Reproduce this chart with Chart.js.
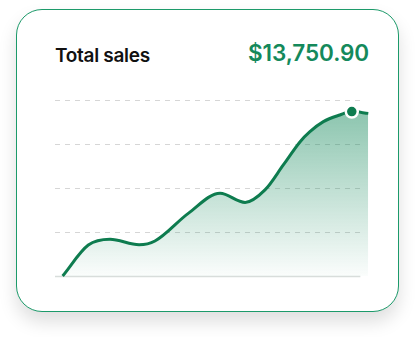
<!DOCTYPE html>
<html>
<head>
<meta charset="utf-8">
<script src="https://cdn.jsdelivr.net/npm/chart.js@4"></script>
<style>
  html, body { margin: 0; padding: 0; background: #fff; }
  body { width: 416px; height: 337px; position: relative; overflow: hidden; font-family: Inter, "Noto Sans", sans-serif; }
  .card {
    position: absolute; left: 16px; top: 9px; width: 381px; height: 301px;
    border: 1.5px solid #1c9a6a; border-radius: 26px; background: #fff;
    box-shadow: 0 10px 18px rgba(0, 0, 0, 0.13);
  }
  .title { position: absolute; left: 55px; top: 44px; font-size: 19px; font-weight: 600; color: #111; letter-spacing: -0.3px; }
  .total { position: absolute; right: 47px; top: 39px; font-size: 22.5px; font-weight: 600; color: #14895b; letter-spacing: -0.1px; }
  #wrap { position: absolute; left: 0; top: 0; width: 416px; height: 337px; }
</style>
</head>
<body>
<div class="card"></div>
<div class="title">Total sales</div>
<div class="total">$13,750.90</div>
<div id="wrap"><canvas id="salesChart"></canvas></div>
<script>
// sales curve (x = position along period, y = share of axis max)
const days  = [0, 8.4, 15.5, 25.0, 30.2, 41.1, 51.5, 59.7, 66.2, 72.2, 77.7, 80.9, 85.3, 90.7, 94.6, 100];
const sales = [0, 17.6, 20.9, 17.8, 19.9, 35.6, 47.0, 41.8, 48.9, 63.1, 76.3, 82.0, 87.7, 91.5, 93.4, 92.4];
const yTicks = [0, 25, 50, 75, 100];
const markIndex = 14;

document.addEventListener('DOMContentLoaded', function () {
  const ctx = document.getElementById('salesChart');

  // dashed grid + solid baseline, stopping a bit short of the line end
  const dashedGrid = {
    id: 'dashedGrid',
    beforeDatasetsDraw(chart) {
      const c = chart.ctx;
      const x0 = chart.chartArea.left;
      const x1 = chart.scales.x.getPixelForValue(97.4);
      c.save();
      yTicks.forEach(v => {
        const y = Math.round(chart.scales.y.getPixelForValue(v)) + 0.5;
        c.beginPath();
        if (v === 0) {
          c.setLineDash([]);
          c.strokeStyle = '#d8dddb';
          c.lineWidth = 1.5;
        } else {
          c.setLineDash([5, 5]);
          c.strokeStyle = '#d6d6d6';
          c.lineWidth = 1;
        }
        c.moveTo(x0, y);
        c.lineTo(x1, y);
        c.stroke();
      });
      c.restore();
    }
  };

  new Chart(ctx, {
    type: 'line',
    data: {
      datasets: [{
        data: days.map((d, i) => ({ x: d, y: sales[i] })),
        borderColor: '#0e7c4f',
        borderWidth: 3,
        cubicInterpolationMode: 'monotone',
        fill: 'origin',
        backgroundColor: function (context) {
          const area = context.chart.chartArea;
          if (!area) return 'rgba(20,137,91,0.4)';
          const g = context.chart.ctx.createLinearGradient(0, area.top, 0, area.bottom);
          g.addColorStop(0, 'rgba(20,137,91,0.52)');
          g.addColorStop(1, 'rgba(20,137,91,0.02)');
          return g;
        },
        pointRadius: c => c.dataIndex === markIndex ? 6 : 0,
        pointHoverRadius: 0,
        pointBackgroundColor: '#0e7c4f',
        pointBorderColor: '#fff',
        pointBorderWidth: 2.5,
        clip: false
      }]
    },
    plugins: [dashedGrid],
    options: {
      responsive: true,
      maintainAspectRatio: false,
      animation: false,
      layout: { padding: { left: 55, right: 47.7, top: 100, bottom: 61 } },
      plugins: { legend: { display: false }, tooltip: { enabled: false } },
      scales: {
        x: { type: 'linear', min: -2.5, max: 100, display: false },
        y: { min: 0, max: 100, display: false }
      }
    }
  });
});
</script>
</body>
</html>
